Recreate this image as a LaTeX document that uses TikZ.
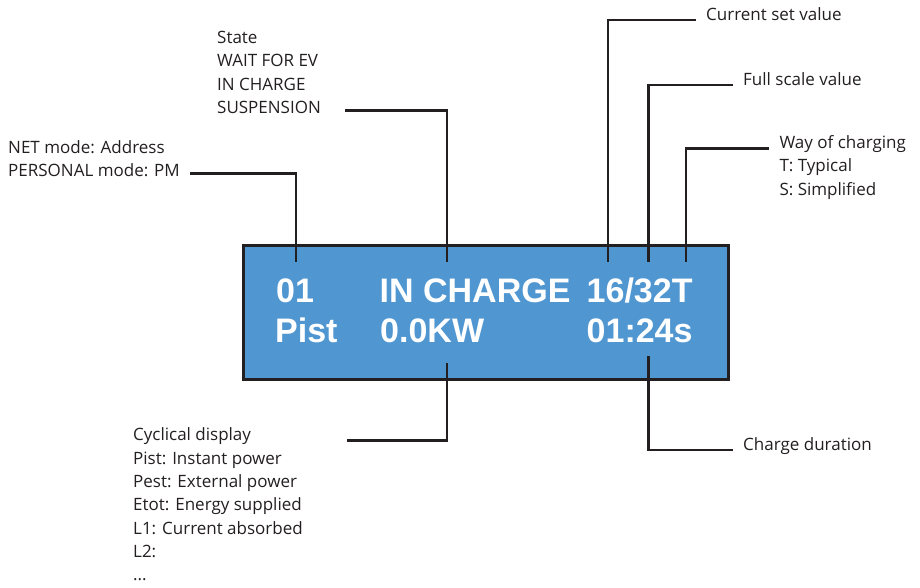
\documentclass[tikz,border=0pt]{standalone}
\usepackage{fontspec}
\setmainfont{Open Sans}
\newfontfamily\lcdfont{Liberation Sans}
\definecolor{lcdblue}{RGB}{80,151,209}
\definecolor{ink}{RGB}{35,31,32}

\begin{document}
\begin{tikzpicture}[x=1pt, y=-1pt,
      lcd/.style={rectangle, draw=ink, fill=lcdblue, line width=2.8pt,
        minimum width=485.4pt, minimum height=134.4pt},
      lcdtext/.style={anchor=base west, inner sep=0pt, text=white,
        font=\lcdfont\bfseries\fontsize{34}{34}\selectfont},
      callout/.style={anchor=base west, inner xsep=10pt, inner ysep=0pt, text=ink,
        font=\fontsize{17}{23.3}\selectfont},
      lead/.style={draw=ink, line width=2.8pt}]

    \useasboundingbox (0,0) rectangle (920,587);

    \node[lcd] (lcd) at (486,312.5) {};

    \node[lcdtext] (net)   at (276,302)   {01};
    \node[lcdtext] (state) at (379.5,302) {IN CHARGE};
    \node[lcdtext] (amps)  at (586.5,302) {16/32T};
    \node[lcdtext] (pist)  at (275,342)   {Pist};
    \node[lcdtext] (power) at (380,342)   {0.0KW};
    \node[lcdtext] (time)  at (586.5,342) {01:24s};

    \coordinate (pAddr)  at (296,262);
    \coordinate (pState) at (447,262);
    \coordinate (pCur)   at (608,262);
    \coordinate (pFull)  at (648.5,262);
    \coordinate (pWay)   at (686,262);
    \coordinate (pCyc)   at (447,362.5);
    \coordinate (pDur)   at (648.5,356);

    \node[callout] (addr1) at (-2,153)   {NET mode: Address};
    \node[callout] (addr2) at (-2,176.3) {PERSONAL mode: PM};

    \node[callout] (st1) at (207,43.3)  {State};
    \node[callout] (st2) at (207,66.6)  {WAIT FOR EV};
    \node[callout] (st3) at (207,90)    {IN CHARGE};
    \node[callout] (st4) at (207,113.3) {SUSPENSION};

    \node[callout] (cur)  at (696,20) {Current set value};
    \node[callout] (full) at (733,85) {Full scale value};

    \node[callout] (way1) at (769.3,148.3) {Way of charging};
    \node[callout] (way2) at (769.3,171.6) {T: Typical};
    \node[callout] (way3) at (769.3,195)   {S: Simplified};

    \node[callout] (cyc1) at (123,440.7) {Cyclical display};
    \node[callout] (cyc2) at (123,464)   {Pist: Instant power};
    \node[callout] (cyc3) at (123,487.3) {Pest: External power};
    \node[callout] (cyc4) at (123,510.7) {Etot: Energy supplied};
    \node[callout] (cyc5) at (123,534)   {L1: Current absorbed};
    \node[callout] (cyc6) at (123,557.3) {L2:};
    \node[callout] (cyc7) at (123,580.6) {...};

    \node[callout] (dur) at (733,450) {Charge duration};

    \draw[lead] (addr2.mid east) -| (pAddr);
    \draw[lead] (pState |- st4.mid east) ++(-102pt,0) -| (pState);
    \draw[lead] (pCur) |- (cur.base west);
    \draw[lead] (pFull) |- (full.base west);
    \draw[lead] (pWay) |- (way1.base west);
    \draw[lead] (pCyc |- cyc1.base east) ++(-100pt,0) -| (pCyc);
    \draw[lead] (pDur) |- (dur.base west);

  \end{tikzpicture}
\end{document}
